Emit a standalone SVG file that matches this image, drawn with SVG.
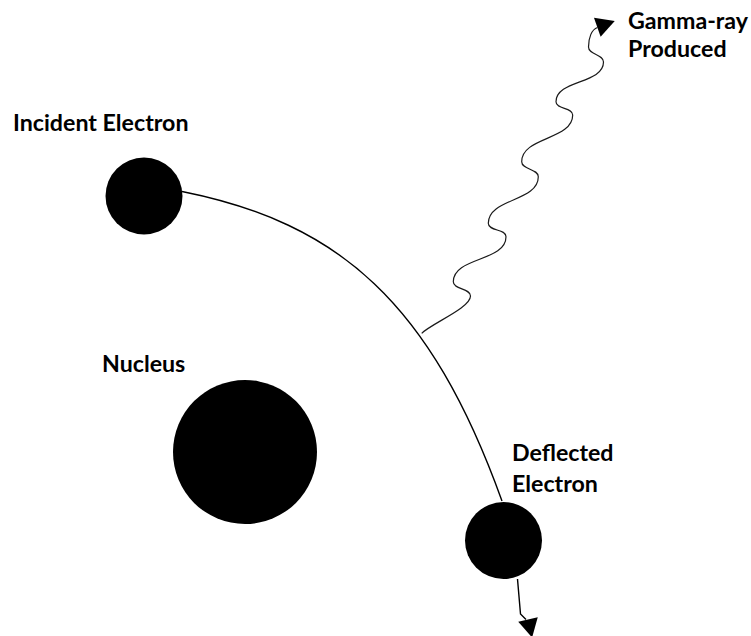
<svg xmlns="http://www.w3.org/2000/svg" xmlns:xlink="http://www.w3.org/1999/xlink" width="751" height="636" viewBox="0 0 751 636">
<style>
.lbl{font-family:Lato,"Open Sans","Liberation Sans",sans-serif;font-weight:bold;font-size:23.2px;fill:#000}
.ball{fill:#000}
.path{fill:none;stroke:#000;stroke-width:1.4}
.wave{fill:none;stroke:#1a1a1a;stroke-width:1.2}
</style>
<defs>
<path id="ah" d="M0,-10 L18.5,0 L0,10 Z" fill="#000"/>
</defs>
<rect width="751" height="636" fill="#fff"/>
<g id="connectors">
<path class="path" d="M182,191.5 C339.4,223 430.6,302.6 502,501"/>
<path class="wave" d="M421.7,333.3 C431.7,323.3 470.5,308 470.5,296 C470.5,288 453.3,289.7 453.3,281.7 C453.3,256.7 506,261.7 506,236.7 C506,228.7 488.3,231.3 488.3,223.3 C488.3,198.3 538.3,201.7 538.3,176.7 C538.3,168.7 521.7,169.7 521.7,161.7 C521.7,136.7 572.7,140 572.7,115 C572.7,107 556,109.7 556,101.7 C556,79.7 603.5,84 603.5,62 C603.5,54 588.5,55 588.5,47 C588.5,38 591.5,29.5 597.5,27.5"/>
<use xlink:href="#ah" transform="translate(597.3,27.2) rotate(-19.4)"/>
<path class="path" d="M517.5,579 L520.5,614 L526,619.5"/>
<use xlink:href="#ah" transform="translate(528,619.5) rotate(77.2)"/>
</g>
<g id="incident-electron">
<circle class="ball" cx="144" cy="196" r="38.5"/>
<text class="lbl" x="13" y="131">Incident Electron</text>
</g>
<g id="nucleus">
<circle class="ball" cx="245" cy="452" r="72"/>
<text class="lbl" x="102" y="372">Nucleus</text>
</g>
<g id="deflected-electron">
<circle class="ball" cx="503.5" cy="540.5" r="38.5"/>
<text class="lbl" x="512" y="461">Deflected</text>
<text class="lbl" x="512" y="491.5">Electron</text>
</g>
<g id="gamma-ray">
<text class="lbl" x="628" y="28.5">Gamma-ray</text>
<text class="lbl" x="628" y="57">Produced</text>
</g>
</svg>
